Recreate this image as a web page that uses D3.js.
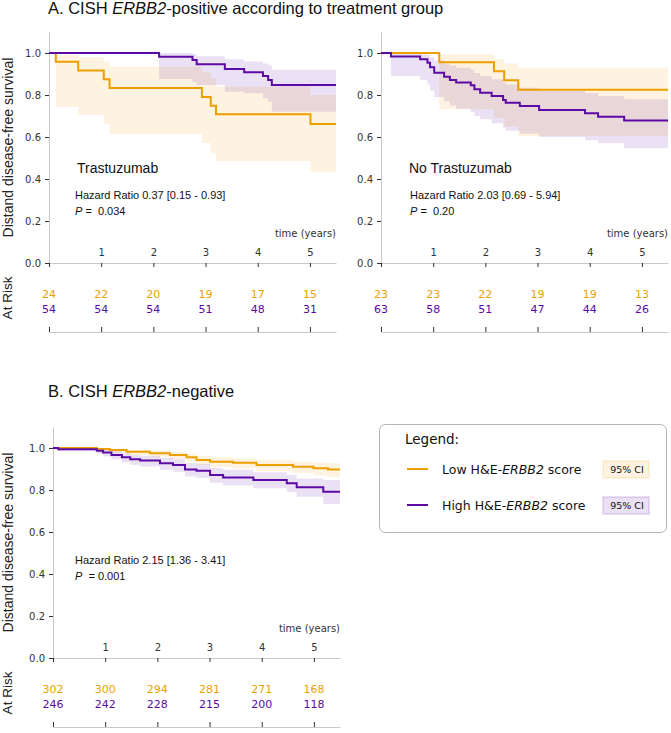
<!DOCTYPE html>
<html>
<head>
<meta charset="utf-8">
<script src="https://cdn.jsdelivr.net/npm/d3@7"></script>
<style>
  body { margin: 0; background: #fff; }
  svg text { font-family: 'DejaVu Sans', sans-serif; }
  .tick text { fill: #333; font-size: 10px; }
  .tick line { stroke: #333; }
  .domain { stroke: #c8c8c8; }
  .ann { font-family: 'Liberation Sans', Arial, sans-serif !important; font-size: 11px; fill: #111; }
  .arial { font-family: 'Liberation Sans', Arial, sans-serif !important; }
</style>
</head>
<body>
<div id="chart"></div>
<script>
// --- data ---
const years = [0, 1, 2, 3, 4, 5];
const yTicks = [0, 0.2, 0.4, 0.6, 0.8, 1.0];

// A, Trastuzumab
const aLowT  = [0, 0.13, 0.56, 1.05, 1.16, 2.93, 3.10, 3.20, 5.01];
const aLowS  = [1, 0.958, 0.917, 0.875, 0.833, 0.79, 0.749, 0.708, 0.662];
const aLowLo = [1, 0.743, 0.705, 0.662, 0.614, 0.571, 0.524, 0.486, 0.435];
const aLowHi = [1, 0.99, 0.98, 0.96, 0.935, 0.91, 0.88, 0.84, 0.80];
const aHighT  = [0, 2.11, 2.75, 2.83, 3.37, 3.74, 4.10, 4.20, 4.27];
const aHighS  = [1, 0.982, 0.967, 0.946, 0.924, 0.908, 0.890, 0.871, 0.848];
const aHighLo = [1, 0.876, 0.862, 0.848, 0.816, 0.808, 0.785, 0.768, 0.72];
const aHighHi = [1, 1.0, 0.995, 0.985, 0.97, 0.96, 0.95, 0.94, 0.92];
const aLowRisk  = [24, 22, 20, 19, 17, 15];
const aHighRisk = [54, 54, 54, 51, 48, 31];

// A, No Trastuzumab
const nLowT  = [0, 1.117, 2.165, 2.36, 2.63];
const nLowS  = [1, 0.956, 0.913, 0.87, 0.825];
const nLowLo = [1, 0.732, 0.69, 0.65, 0.605];
const nLowHi = [1, 0.994, 0.97, 0.95, 0.93];
const nHighT  = [0, 0.19, 0.75, 0.89, 0.94, 1.02, 1.21, 1.32, 1.44, 1.72, 1.79, 1.90, 2.12, 2.34, 2.39, 2.66, 3.03, 3.91, 4.16, 4.66];
const nHighS  = [1, 0.983, 0.970, 0.954, 0.932, 0.906, 0.887, 0.871, 0.859, 0.846, 0.827, 0.811, 0.795, 0.776, 0.763, 0.748, 0.729, 0.713, 0.697, 0.678];
const nHighLo = [1, 0.89, 0.87, 0.85, 0.82, 0.79, 0.77, 0.75, 0.735, 0.72, 0.70, 0.685, 0.665, 0.645, 0.63, 0.615, 0.60, 0.585, 0.57, 0.546];
const nHighHi = [1, 1.0, 0.995, 0.99, 0.98, 0.965, 0.95, 0.94, 0.93, 0.92, 0.905, 0.89, 0.875, 0.86, 0.85, 0.835, 0.82, 0.81, 0.795, 0.78];
const nLowRisk  = [23, 23, 22, 19, 19, 13];
const nHighRisk = [63, 58, 51, 47, 44, 26];

// B, CISH ERBB2-negative
const bLowT  = [0, 0.84, 1.09, 1.41, 1.86, 2.24, 2.56, 2.75, 3.01, 3.45, 3.90, 4.60, 4.99, 5.27];
const bLowS  = [1, 0.995, 0.99, 0.982, 0.975, 0.967, 0.956, 0.943, 0.935, 0.93, 0.919, 0.911, 0.903, 0.898];
const bLowLo = [1, 0.987, 0.979, 0.967, 0.958, 0.948, 0.935, 0.92, 0.91, 0.904, 0.891, 0.881, 0.87, 0.862];
const bLowHi = [1, 1.0, 0.997, 0.992, 0.988, 0.982, 0.973, 0.962, 0.955, 0.951, 0.942, 0.935, 0.93, 0.927];
const bHighT  = [0, 0.10, 0.84, 0.96, 1.12, 1.32, 1.48, 1.67, 2.05, 2.30, 2.53, 2.75, 3.01, 3.26, 3.84, 4.48, 4.67, 5.18];
const bHighS  = [1, 0.994, 0.987, 0.978, 0.967, 0.956, 0.946, 0.940, 0.927, 0.919, 0.898, 0.892, 0.871, 0.860, 0.848, 0.832, 0.813, 0.792];
const bHighLo = [1, 0.985, 0.973, 0.96, 0.946, 0.932, 0.92, 0.912, 0.897, 0.887, 0.864, 0.857, 0.834, 0.821, 0.808, 0.79, 0.768, 0.733];
const bHighHi = [1, 1.0, 0.997, 0.992, 0.984, 0.976, 0.968, 0.963, 0.953, 0.947, 0.929, 0.924, 0.905, 0.896, 0.885, 0.871, 0.855, 0.848];
const bLowRisk  = [302, 300, 294, 281, 271, 168];
const bHighRisk = [246, 242, 228, 215, 200, 118];

const lowColor = '#ee9f00';
const highColor = '#5c0aa5';
const tMax = 5.5;

const width = 671;
const height = 733;

const svg = d3.select('#chart').append('svg')
  .attr('width', width)
  .attr('height', height);

function series(t, s, lo, hi) {
  const pts = t.map((d, i) => ({ t: d, s: s[i], lo: lo[i], hi: hi[i] }));
  const last = pts[pts.length - 1];
  pts.push({ t: tMax, s: last.s, lo: last.lo, hi: last.hi });
  return pts;
}

function drawPanel(cfg) {
  const x = d3.scaleLinear().domain([0, tMax]).range([cfg.x0, cfg.x0 + 287]);
  const y = d3.scaleLinear().domain([0, 1.1]).range([cfg.y0, cfg.y0 - 231]);
  const g = svg.append('g');

  // y axis
  g.append('g')
    .attr('transform', `translate(${cfg.x0},0)`)
    .call(d3.axisLeft(y).tickValues(yTicks).tickFormat(d3.format('.1f')).tickSize(4).tickSizeOuter(0).tickPadding(4));

  // x axis, labels sit above the line
  const xAx = g.append('g')
    .attr('transform', `translate(0,${cfg.y0})`)
    .call(d3.axisBottom(x).tickValues(years).tickFormat(d => d === 0 ? '' : d).tickSize(4).tickSizeOuter(0));
  xAx.selectAll('.tick text').attr('y', -7).attr('dy', 0);

  g.append('text')
    .attr('x', x(tMax))
    .attr('y', cfg.y0 - 26)
    .attr('text-anchor', 'end')
    .style('font-size', '10px')
    .style('fill', '#333')
    .text('time (years)');

  // bands then lines
  const area = d3.area().curve(d3.curveStepAfter)
    .x(d => x(d.t)).y0(d => y(d.lo)).y1(d => y(d.hi));
  const line = d3.line().curve(d3.curveStepAfter)
    .x(d => x(d.t)).y(d => y(d.s));

  cfg.groups.forEach(grp => {
    g.append('path')
      .datum(grp.data)
      .attr('d', area)
      .style('fill', grp.color)
      .style('fill-opacity', 0.12)
      .style('stroke', 'none');
  });
  cfg.groups.forEach(grp => {
    g.append('path')
      .datum(grp.data)
      .attr('d', line)
      .style('fill', 'none')
      .style('stroke', grp.color)
      .style('stroke-width', 2);
  });

  // at risk table
  cfg.groups.forEach((grp, i) => {
    g.selectAll(null)
      .data(grp.risk)
      .enter().append('text')
      .attr('x', (d, j) => x(years[j]))
      .attr('y', cfg.y0 + 35 + i * 14.5)
      .attr('text-anchor', 'middle')
      .style('font-size', '11px')
      .style('fill', grp.color)
      .text(d => d);
  });

  g.append('g')
    .attr('transform', `translate(0,${cfg.y0 + 69})`)
    .call(d3.axisTop(x).tickValues(years).tickFormat('').tickSize(5).tickSizeOuter(0));

  // annotations
  if (cfg.label) {
    g.append('text')
      .attr('class', 'arial')
      .attr('x', cfg.x0 + 28)
      .attr('y', cfg.y0 - 90)
      .style('font-size', '14px')
      .style('fill', '#111')
      .text(cfg.label);
  }
  g.append('text')
    .attr('class', 'ann')
    .attr('x', cfg.x0 + cfg.annDx)
    .attr('y', cfg.y0 + cfg.annDy)
    .text(cfg.hr);
  const p = g.append('text')
    .attr('class', 'ann')
    .attr('x', cfg.x0 + cfg.annDx)
    .attr('y', cfg.y0 + cfg.annDy + 16)
    .attr('xml:space', 'preserve');
  p.append('tspan').style('font-style', 'italic').text('P');
  p.append('tspan').text(cfg.p);

  if (cfg.yLabel) {
    g.append('text')
      .attr('class', 'arial')
      .attr('transform', `translate(13,${(y(0) + y(1.1)) / 2}) rotate(-90)`)
      .attr('text-anchor', 'middle')
      .style('font-size', '14px')
      .style('fill', '#222')
      .text('Distand disease-free survival');
    g.append('text')
      .attr('class', 'arial')
      .attr('transform', `translate(12,${cfg.y0 + 35}) rotate(-90)`)
      .attr('text-anchor', 'middle')
      .style('font-size', '13.5px')
      .style('fill', '#222')
      .text('At Risk');
  }
}

drawPanel({
  x0: 49, y0: 263, label: 'Trastuzumab', yLabel: true,
  hr: 'Hazard Ratio 0.37 [0.15 - 0.93]', p: ' =  0.034', annDx: 26, annDy: -64,
  groups: [
    { color: lowColor, data: series(aLowT, aLowS, aLowLo, aLowHi), risk: aLowRisk },
    { color: highColor, data: series(aHighT, aHighS, aHighLo, aHighHi), risk: aHighRisk }
  ]
});

drawPanel({
  x0: 381, y0: 263, label: 'No Trastuzumab', yLabel: false,
  hr: 'Hazard Ratio 2.03 [0.69 - 5.94]', p: ' =  0.20', annDx: 29, annDy: -64,
  groups: [
    { color: lowColor, data: series(nLowT, nLowS, nLowLo, nLowHi), risk: nLowRisk },
    { color: highColor, data: series(nHighT, nHighS, nHighLo, nHighHi), risk: nHighRisk }
  ]
});

drawPanel({
  x0: 53, y0: 658, label: null, yLabel: true,
  hr: 'Hazard Ratio 2.15 [1.36 - 3.41]', p: '  = 0.001', annDx: 22, annDy: -94,
  groups: [
    { color: lowColor, data: series(bLowT, bLowS, bLowLo, bLowHi), risk: bLowRisk },
    { color: highColor, data: series(bHighT, bHighS, bHighLo, bHighHi), risk: bHighRisk }
  ]
});

// titles
function title(txt1, ital, txt2, yPos) {
  const t = svg.append('text')
    .attr('class', 'arial')
    .attr('x', 48)
    .attr('y', yPos)
    .style('font-size', '16.5px')
    .style('fill', '#111');
  t.append('tspan').text(txt1);
  t.append('tspan').style('font-style', 'italic').text(ital);
  t.append('tspan').text(txt2);
}
title('A. CISH ', 'ERBB2', '-positive according to treatment group', 14);
title('B. CISH ', 'ERBB2', '-negative', 397);

// legend
const legend = svg.append('g');
legend.append('rect')
  .attr('x', 379.5).attr('y', 424.5)
  .attr('width', 287).attr('height', 108)
  .attr('rx', 6)
  .style('fill', '#fff')
  .style('stroke', '#b4b4b4');
legend.append('text')
  .attr('x', 405).attr('y', 444)
  .style('font-size', '13.5px')
  .style('fill', '#111')
  .text('Legend:');

const legendItems = [
  { name: 'Low', color: lowColor, y: 469 },
  { name: 'High', color: highColor, y: 505 }
];
legendItems.forEach(item => {
  legend.append('line')
    .attr('x1', 407).attr('x2', 428)
    .attr('y1', item.y).attr('y2', item.y)
    .style('stroke', item.color)
    .style('stroke-width', 2);
  const t = legend.append('text')
    .attr('x', 442).attr('y', item.y + 5)
    .style('font-size', '12.5px')
    .style('fill', '#111');
  t.append('tspan').text(`${item.name} H&E-`);
  t.append('tspan').style('font-style', 'italic').text('ERBB2');
  t.append('tspan').text(' score');
  legend.append('rect')
    .attr('x', 603).attr('y', item.y - 8)
    .attr('width', 46).attr('height', 17)
    .style('fill', item.color)
    .style('fill-opacity', 0.12)
    .style('stroke', item.color)
    .style('stroke-opacity', 0.12)
    .style('stroke-width', 2);
  legend.append('text')
    .attr('x', 627).attr('y', item.y + 4)
    .attr('text-anchor', 'middle')
    .style('font-size', '9.5px')
    .style('fill', '#111')
    .text('95% CI');
});
</script>
</body>
</html>
